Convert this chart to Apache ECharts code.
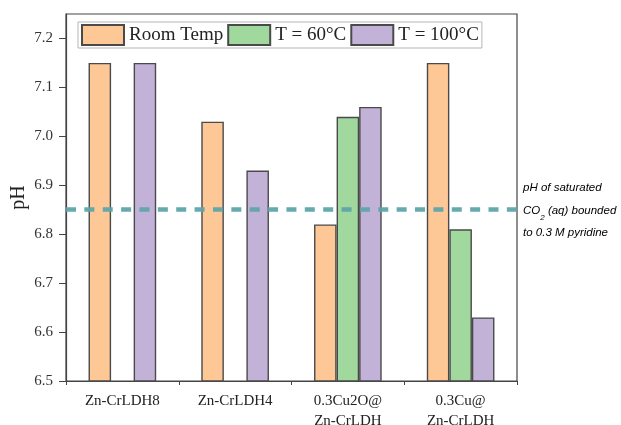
<!DOCTYPE html>
<html>
<head>
<meta charset="utf-8">
<script src="https://cdn.jsdelivr.net/npm/echarts@6/dist/echarts.min.js"></script>
<style>html,body{margin:0;padding:0;background:#fff}#c{width:621px;height:425px}</style>
</head>
<body>
<div id="c"></div>
<script>
const categories = ['Zn-CrLDH8', 'Zn-CrLDH4', '0.3Cu2O@\nZn-CrLDH', '0.3Cu@\nZn-CrLDH'];
const seriesNames = ['Room Temp', 'T = 60°C', 'T = 100°C'];
const roomTemp = [7.15, 7.03, 6.82, 7.15];
const t60 = [null, null, 7.04, 6.81];
const t100 = [7.15, 6.93, 7.06, 6.63];
const yTicks = [6.5, 6.6, 6.7, 6.8, 6.9, 7.0, 7.1, 7.2];
const refLine = 6.85;
const colors = ['#FEC896', '#A0D89E', '#C3B2D7'];

const serif = '"Liberation Serif", "Times New Roman", serif';
const chart = echarts.init(document.getElementById('c'));
const barStyle = c => ({ color: c, borderColor: '#4a4a4a', borderWidth: 1.4 });

chart.setOption({
  animation: false,
  grid: { left: 66, right: 104, top: 14, bottom: 44, containLabel: false, outerBoundsMode: 'none',
    show: true, borderColor: '#444', borderWidth: 1.2, backgroundColor: 'transparent' },
  legend: {
    left: 78, top: 22, padding: [2, 3, 2, 3], itemGap: 4, itemWidth: 42, itemHeight: 20, icon: 'rect',
    borderColor: '#b5b5b5', borderWidth: 1, backgroundColor: '#fff',
    textStyle: { fontFamily: serif, fontSize: 19, color: '#222' },
    data: seriesNames
  },
  xAxis: [{
    type: 'category', data: categories, position: 'bottom',
    axisLine: { lineStyle: { color: '#444', width: 1.2 } },
    axisTick: { alignWithLabel: true, length: 6, lineStyle: { color: '#444' } },
    axisLabel: { fontFamily: serif, fontSize: 15, color: '#222', margin: 10, lineHeight: 20, interval: 0 }
  }, {
    type: 'category', data: categories, position: 'bottom', offset: 0,
    axisLine: { show: true, lineStyle: { color: '#444', opacity: 0 } },
    axisTick: { show: true, alignWithLabel: false, interval: 0, length: 4, lineStyle: { color: '#444', opacity: 1 } },
    axisLabel: { show: false }
  }],
  yAxis: {
    type: 'value', min: 6.5, max: 7.25,
    name: 'pH', nameLocation: 'middle', nameGap: 37, nameMoveOverlap: false,
    nameTextStyle: { fontFamily: serif, fontSize: 20, color: '#222' },
    axisLine: { show: true, lineStyle: { color: '#444', width: 1.2 } },
    axisTick: { show: true, length: 7, inside: false, customValues: yTicks, lineStyle: { color: '#444' } },
    axisLabel: { fontFamily: serif, fontSize: 15, color: '#333', margin: 13, customValues: yTicks, formatter: v => v.toFixed(1) },
    splitLine: { show: false }
  },
  series: [
    { name: seriesNames[0], type: 'bar', data: roomTemp, barGap: '0%', barCategoryGap: '40%', itemStyle: barStyle(colors[0]),
      markLine: { silent: true, symbol: 'none', label: { show: false },
        lineStyle: { color: '#5EA5AA', width: 4.5, type: [10, 8.37], opacity: 0.95 },
        data: [{ yAxis: refLine }] }, z: 2 },
    { name: seriesNames[1], type: 'bar', data: t60, itemStyle: barStyle(colors[1]) },
    { name: seriesNames[2], type: 'bar', data: t100, itemStyle: barStyle(colors[2]) }
  ],
  graphic: [{
    type: 'text', left: 523, top: 182,
    style: {
      text: '{a|pH of saturated}\n{a|CO}{s|2}{a| (aq) bounded}\n{a|to 0.3 M pyridine}',
      rich: {
        a: { fontFamily: '"Liberation Sans", Arial, sans-serif', fontStyle: 'italic', fontSize: 11.5, color: '#222', lineHeight: 22.5 },
        s: { fontFamily: '"Liberation Sans", Arial, sans-serif', fontStyle: 'italic', fontSize: 8, color: '#222', lineHeight: 22.5, verticalAlign: 'bottom', padding: [4, 0, 0, 0] }
      }
    }
  }]
});
</script>
</body>
</html>
